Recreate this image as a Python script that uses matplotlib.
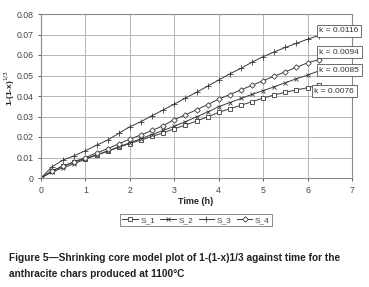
import matplotlib
matplotlib.use("Agg")
import matplotlib.pyplot as plt
import numpy as np

plt.rcParams['font.family'] = ['Liberation Sans', 'DejaVu Sans']

time_h = [0, 0.25, 0.5, 0.75, 1.0, 1.25, 1.5, 1.75, 2.0, 2.25, 2.5, 2.75, 3.0,
          3.25, 3.5, 3.75, 4.0, 4.25, 4.5, 4.75, 5.0, 5.25, 5.5, 5.75, 6.0, 6.25]
s1 = [0, 0.0035, 0.0058, 0.0078, 0.0095, 0.0112, 0.0130, 0.0150, 0.0168, 0.0185,
      0.0203, 0.0220, 0.0240, 0.0258, 0.0278, 0.0298, 0.0320, 0.0338, 0.0355,
      0.0372, 0.0390, 0.0405, 0.0418, 0.0430, 0.0440, 0.0455]
s2 = [0, 0.0030, 0.0050, 0.0070, 0.0092, 0.0112, 0.0132, 0.0152, 0.0172, 0.0192,
      0.0212, 0.0232, 0.0252, 0.0275, 0.0298, 0.0322, 0.0348, 0.0368, 0.0388,
      0.0408, 0.0426, 0.0445, 0.0465, 0.0484, 0.0502, 0.0522]
s3 = [0, 0.0055, 0.0088, 0.0109, 0.0133, 0.0160, 0.0185, 0.0218, 0.0250, 0.0275,
      0.0304, 0.0332, 0.0360, 0.0390, 0.0418, 0.0448, 0.0478, 0.0508, 0.0535,
      0.0565, 0.0592, 0.0615, 0.0637, 0.0657, 0.0677, 0.0695]
s4 = [0, 0.0035, 0.0058, 0.0080, 0.0100, 0.0122, 0.0143, 0.0166, 0.0190, 0.0210,
      0.0232, 0.0255, 0.0285, 0.0308, 0.0333, 0.0358, 0.0385, 0.0407, 0.0430,
      0.0452, 0.0475, 0.0497, 0.0518, 0.0540, 0.0562, 0.0577]
series_names = ['S_1', 'S_2', 'S_3', 'S_4']
k_labels = ['k = 0.0076', 'k = 0.0085', 'k = 0.0116', 'k = 0.0094']
x_ticks = [0, 1, 2, 3, 4, 5, 6, 7]
y_ticks = [0, 0.01, 0.02, 0.03, 0.04, 0.05, 0.06, 0.07, 0.08]
y_tick_labels = ['0', '0.01', '0.02', '0.03', '0.04', '0.05', '0.06', '0.07', '0.08']

W, H = 369, 287
fig = plt.figure(figsize=(W / 100, H / 100), dpi=100)
ax = fig.add_axes([41 / W, 1 - 178 / H, (352 - 41) / W, (178 - 14) / H])

lc = '#3a3a3a'
markers = ['s', 'x', '+', 'D']
msizes = [3.0, 3.5, 4.0, 2.8]
data = [s1, s2, s3, s4]
for d, m, ms, name in zip(data, markers, msizes, series_names):
    kw = dict(markerfacecolor='white') if m in ('s', 'D') else {}
    ax.plot(time_h, d, color=lc, lw=0.7, marker=m, ms=ms, mew=0.6,
            mec=lc, label=name, **kw)

ax.set_xlim(0, 7)
ax.set_ylim(0, 0.08)
ax.set_xticks(x_ticks)
ax.set_yticks(y_ticks)
ax.set_yticklabels(y_tick_labels)
ax.grid(True, color='#b5b5b5', lw=0.7)
ax.set_axisbelow(True)
for sp in ax.spines.values():
    sp.set_color('#8a8a8a')
    sp.set_linewidth(0.8)
ax.tick_params(labelsize=6.3, colors='#444444', length=2.5, width=0.6,
               direction='out', pad=3)

fig.text(196 / W, 1 - 202 / H, 'Time (h)', fontsize=6.5, fontweight='bold',
         color='#222222', ha='center', va='center')
fig.text(10 / W, 1 - 88 / H, r'1-(1-x)$^{1/3}$', fontsize=6.0, fontweight='bold',
         color='#222222', ha='center', va='center', rotation=90)

# k annotations
label_pos = [(313, 91.5), (318, 70), (318, 31), (318, 52)]
for (px, py), txt in zip(label_pos, k_labels):
    fig.text(px / W + 0.004, 1 - py / H, txt, fontsize=6.0, color='#333333',
             ha='left', va='center',
             bbox=dict(boxstyle='square,pad=0.3', fc='white', ec='#555555', lw=0.6))

leg = fig.legend(loc='center', bbox_to_anchor=(196 / W, 1 - 220 / H), ncol=4,
                 fontsize=6.0, frameon=True, fancybox=False, edgecolor='#555555',
                 handlelength=1.9, handletextpad=0.3, columnspacing=0.6,
                 borderpad=0.3)
leg.get_frame().set_linewidth(0.6)
for t in leg.get_texts():
    t.set_color('#444444')

fig.text(9 / W, 1 - 258 / H,
         'Figure 5\u2014Shrinking core model plot of 1-(1-x)1/3 against time for the',
         fontsize=7.25, fontweight='bold', color='#222222', ha='left', va='center')
fig.text(9 / W, 1 - 274 / H, 'anthracite chars produced at 1100\u00b0C',
         fontsize=7.25, fontweight='bold', color='#222222', ha='left', va='center')

fig.savefig('out.png', dpi=100)
